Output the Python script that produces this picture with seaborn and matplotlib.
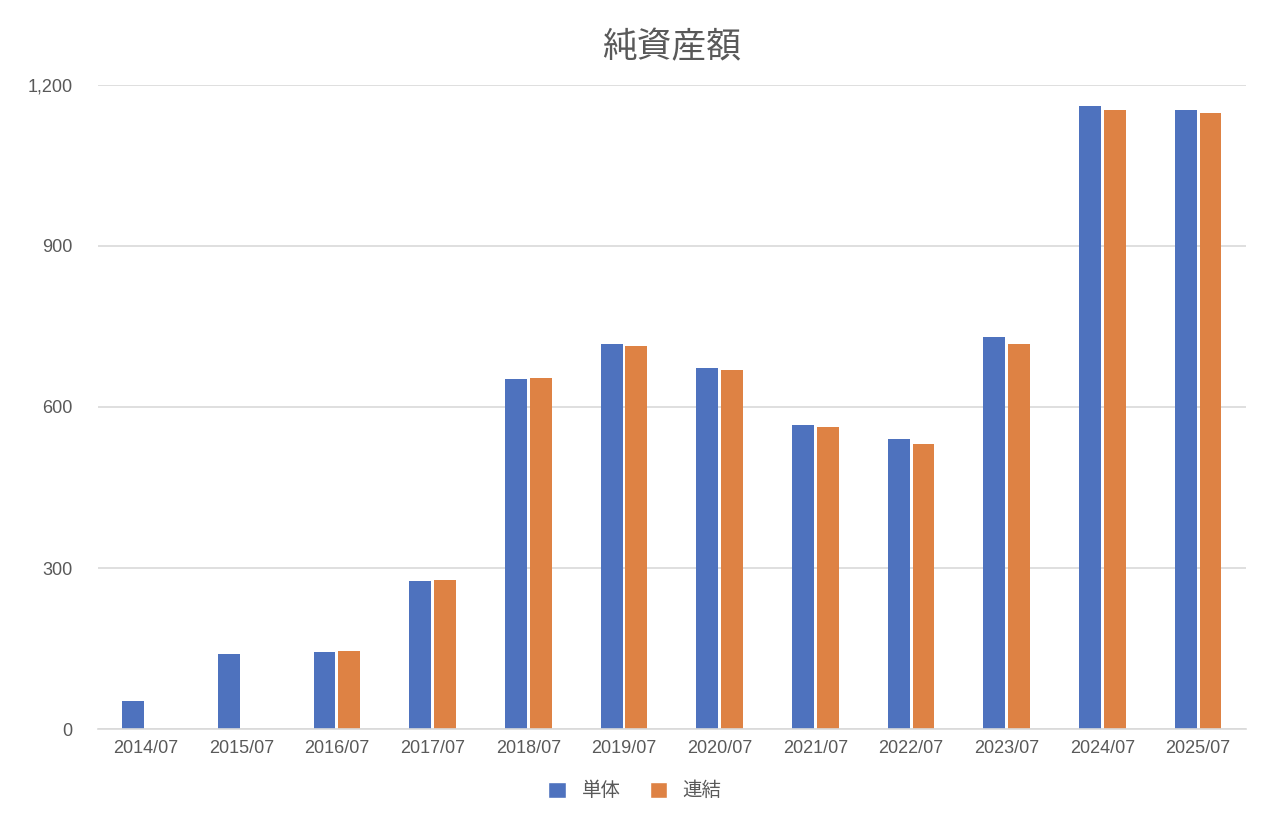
import numpy as np
import pandas as pd
import matplotlib
matplotlib.use("Agg")
import matplotlib.pyplot as plt
from matplotlib.patches import Patch
from matplotlib.ticker import FuncFormatter
import seaborn as sns

years = ["2014/07", "2015/07", "2016/07", "2017/07", "2018/07", "2019/07",
         "2020/07", "2021/07", "2022/07", "2023/07", "2024/07", "2025/07"]
tantai = [52, 140, 143, 276, 652, 717, 673, 566, 540, 730, 1161, 1153]
renketsu = [np.nan, np.nan, 145, 278, 654, 714, 669, 563, 531, 717, 1152, 1148]
series = ["単体", "連結"]
colors = ["#4E72BE", "#DE8244"]

df = pd.DataFrame({"年月": years * 2,
                   "系列": [series[0]] * len(years) + [series[1]] * len(years),
                   "純資産額": tantai + renketsu})

sns.set_theme(style="white")
plt.rcParams['font.family'] = ['Liberation Sans', 'Noto Sans CJK JP', 'DejaVu Sans']

fig, ax = plt.subplots(figsize=(12.7, 8.22), dpi=100)
fig.subplots_adjust(left=0.077, right=0.981, top=0.897, bottom=0.113)

sns.barplot(data=df, x="年月", y="純資産額", hue="系列", palette=colors,
            width=0.52, gap=0.12, saturation=1, linewidth=0, ax=ax, legend=False)

ax.set_ylim(0, 1200)
ax.set_yticks([0, 300, 600, 900, 1200])
ax.yaxis.set_major_formatter(FuncFormatter(lambda v, p: f"{int(v):,}"))
ax.grid(axis="y", color="#D9D9D9", linewidth=1.2)
ax.set_axisbelow(True)
for s in ["top", "right", "left"]:
    ax.spines[s].set_visible(False)
ax.spines["bottom"].set_color("#D9D9D9")
ax.spines["bottom"].set_linewidth(1.2)
ax.tick_params(axis="both", length=0, labelsize=13, colors="#595959", pad=8)
ax.tick_params(axis="y", pad=18)
ax.set_xlabel("")
ax.set_ylabel("")
ax.set_title("純資産額", fontsize=25, color="#595959", pad=20)

handles = [Patch(facecolor=c, label=s) for c, s in zip(colors, series)]
fig.legend(handles=handles, loc="lower center", bbox_to_anchor=(0.5, 0.005),
           ncol=2, frameon=False, fontsize=14, handlelength=0.9, handleheight=0.9,
           columnspacing=1.5, labelcolor="#595959")

fig.savefig("out.png", dpi=100)
